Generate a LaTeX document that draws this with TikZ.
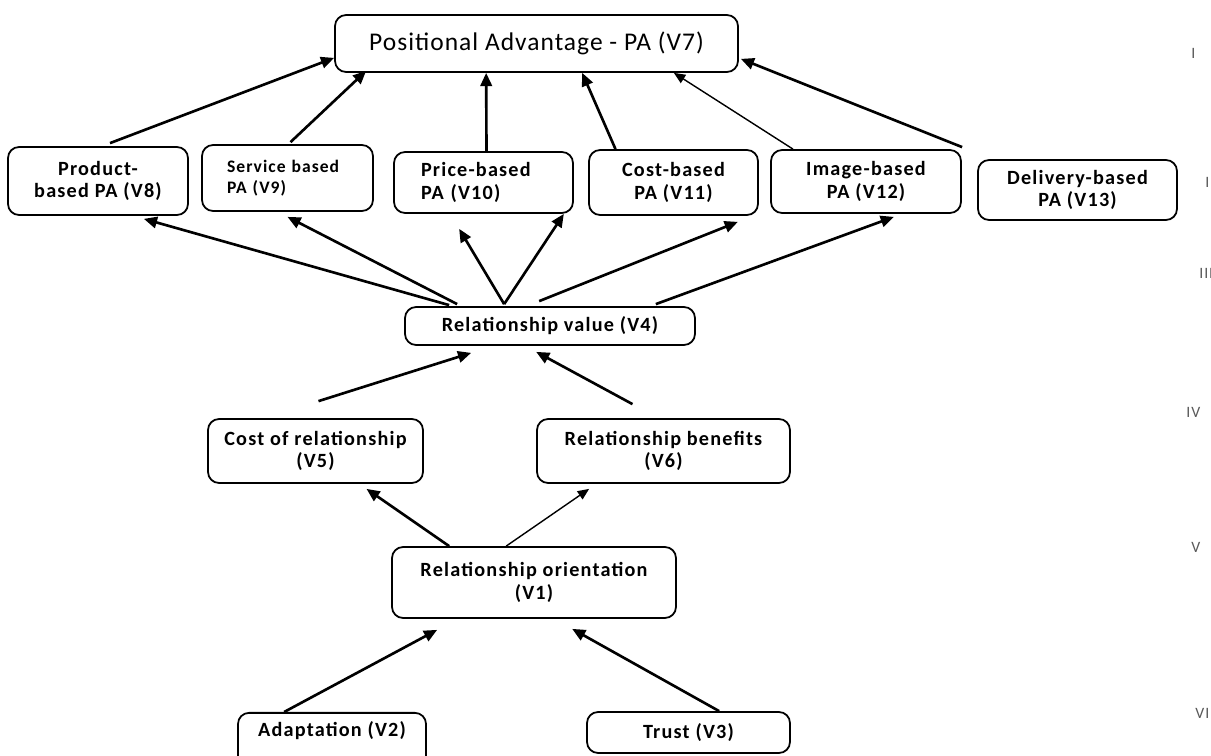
\documentclass[tikz,border=0pt]{standalone}
\usepackage{fontspec}
\setmainfont{Carlito}[LetterSpace=6]
\newfontfamily\pafont{Carlito}[LetterSpace=4]
\usepackage{tikz}
\usetikzlibrary{calc}
\usetikzlibrary{arrows.meta}

\begin{document}
\begin{tikzpicture}[
  x=0.02cm, y=-0.02cm,
  every node/.style={font=\bfseries\fontsize{11.5}{13}\selectfont, align=center},
  box/.style={draw, line width=1pt, rounded corners=0.22cm, inner sep=0pt},
  conn/.style={line width=1.5pt, -{Triangle[length=7.5pt, width=6.5pt]}},
  thinconn/.style={line width=0.8pt, -{Triangle[length=6.5pt, width=5.5pt]}},
  level/.style={font=\fontsize{9}{10}\selectfont, text=black!65, anchor=west, inner sep=0pt}
]
  \useasboundingbox (0,0) rectangle (1211,756);

  % top box
  \node[box, minimum width=8.06cm, minimum height=1.14cm, font=\pafont\fontsize{14.5}{17}\selectfont] (pa) at (536.5,43.5) {Positional Advantage - PA (V7)};

  % types of advantage
  \node[box, minimum width=3.6cm,  minimum height=1.36cm] (v8)  at (98,181)     {Product-\\based PA (V8)};
  \node[box, minimum height=1.32cm, text width=2.42cm, inner xsep=0.5cm, align=left, font=\bfseries\fontsize{10}{12}\selectfont] (v9) at (287.5,178) {Service based\\PA (V9)};
  \node[box, minimum height=1.22cm, text width=2.5cm, inner xsep=0.54cm, align=left] (v10) at (483.5,182.5) {Price-based\\PA (V10)};
  \node[box, minimum width=3.38cm, minimum height=1.30cm] (v11) at (673.5,182.5) {Cost-based\\PA (V11)};
  \node[box, minimum width=3.8cm,  minimum height=1.26cm] (v12) at (866,181.5)   {Image-based\\PA (V12)};
  \node[box, minimum width=3.98cm, minimum height=1.2cm]  (v13) at (1077.5,190)  {Delivery-based\\PA (V13)};

  \node[box, minimum width=5.8cm, minimum height=0.76cm] (v4) at (550,326) {Relationship value (V4)};
  \node[box, minimum width=4.3cm,  minimum height=1.28cm] (v5) at (315.5,451) {Cost of relationship\\(V5)};
  \node[box, minimum width=5.06cm, minimum height=1.28cm] (v6) at (663.5,451) {Relationship benefits\\(V6)};
  \node[box, minimum width=5.68cm, minimum height=1.42cm] (v1) at (534,582.5) {Relationship orientation\\(V1)};

  % antecedents (bottom)
  \node[box, anchor=north, minimum width=3.76cm, text height=0.48cm, text depth=1cm] (v2) at (332,712) {Adaptation (V2)};
  \node[box, minimum width=4.06cm, minimum height=0.82cm] (v3) at (688.5,732.5) {Trust (V3)};

  % to PA
  \draw[conn] ($(v8.north)+(12,-3)$) -- ($(pa.south west)+(0,-15)$);
  \draw[conn] ($(v9.north)+(3,-2)$) -- ($(pa.south west)+(32,-2)$);
  \draw[conn] ($(v10.north)+(3,0)$) -- ($(pa.south west)+(152,0)$);
  \draw[conn] ($(v11.north)+(-58,0)$) -- ($(pa.south west)+(248,0)$);
  \draw[thinconn] ($(v12.north)+(-73,0)$) -- ($(pa.south east)+(-65,0)$);
  \draw[conn] ($(v13.north west)+(-15,-12)$) -- ($(pa.south east)+(2,-14)$);

  % from relationship value
  \draw[conn] ($(v4.north west)+(45,-1)$) -- ($(v8.south east)+(-45,3)$);
  \draw[conn] ($(v4.north west)+(53,-2)$) -- ($(v9.south)+(0,5)$);
  \draw[conn] ($(v4.north west)+(100,-2)$) -- ($(v10.south west)+(66,15)$);
  \draw[conn] ($(v4.north west)+(100,-2)$) -- ($(v10.south east)+(-10,0)$);
  \draw[conn] ($(v4.north west)+(135,-5)$) -- ($(v11.south east)+(-21,6)$);
  \draw[conn] ($(v4.north east)+(-40,-2)$) -- ($(v12.south east)+(-68,3)$);

  % cost and benefits
  \draw[conn] ($(v5.north)+(3,-17)$) -- ($(v4.south west)+(67,7)$);
  \draw[conn] ($(v6.north)+(-31,-14)$) -- ($(v4.south west)+(132,6)$);
  \draw[conn] ($(v1.north west)+(58,0)$) -- ($(v5.south)+(51,5)$);
  \draw[thinconn] ($(v1.north west)+(115,0)$) -- ($(v6.south west)+(53,5)$);

  \draw[conn] ($(v2.north west)+(47,0)$) -- ($(v1.south west)+(46,11)$);
  \draw[conn] ($(v3.north west)+(133,0)$) -- ($(v1.south west)+(181,10)$);

  % levels at the right margin
  \node[level] (l1) at (1191,53)  {I};
  \node[level] (l2) at (1205,182) {II};
  \node[level] (l3) at (1199,273) {III};
  \node[level] (l4) at (1186,412) {IV};
  \node[level] (l5) at (1191,547) {V};
  \node[level] (l6) at (1195,713) {VI};
\end{tikzpicture}
\end{document}
